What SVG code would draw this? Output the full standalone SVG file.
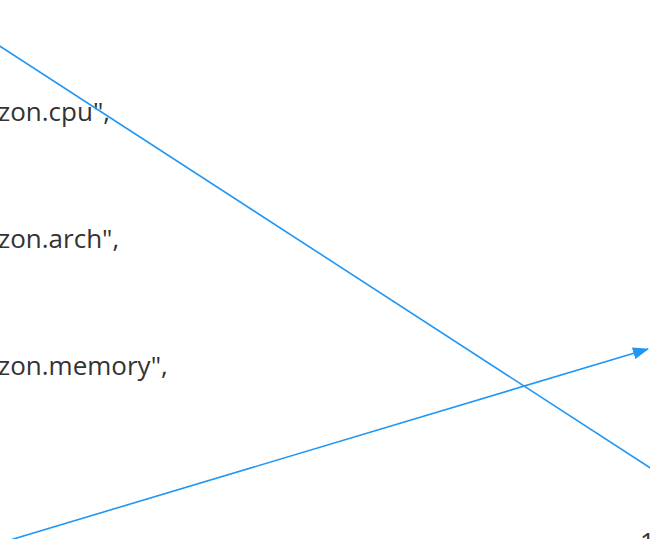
<svg xmlns="http://www.w3.org/2000/svg" width="650" height="539" viewBox="0 0 650 539">
<style>
.lbl{font-family:"Open Sans","Noto Sans",sans-serif;font-size:26px;fill:#333333}
.edge{stroke:#2196F3;stroke-width:1.6;fill:none}
</style>
<defs>
<marker id="arr" markerWidth="16" markerHeight="12" refX="15" refY="6" orient="auto" markerUnits="userSpaceOnUse">
<path d="M0,0 L16,6 L0,12 Z" fill="#2196F3"/>
</marker>
</defs>
<rect width="650" height="539" fill="#ffffff"/>
<g id="labels">
<text class="lbl" x="-2" y="121">zon.cpu",</text>
<text class="lbl" x="-2" y="248">zon.arch",</text>
<text class="lbl" x="-2" y="375">zon.memory",</text>
<text class="lbl" x="640" y="551">1</text>
</g>
<g id="connectors">
<line class="edge" x1="-5" y1="43" x2="652" y2="469"/>
<line class="edge" x1="-10" y1="546" x2="648" y2="349" marker-end="url(#arr)"/>
</g>
</svg>
